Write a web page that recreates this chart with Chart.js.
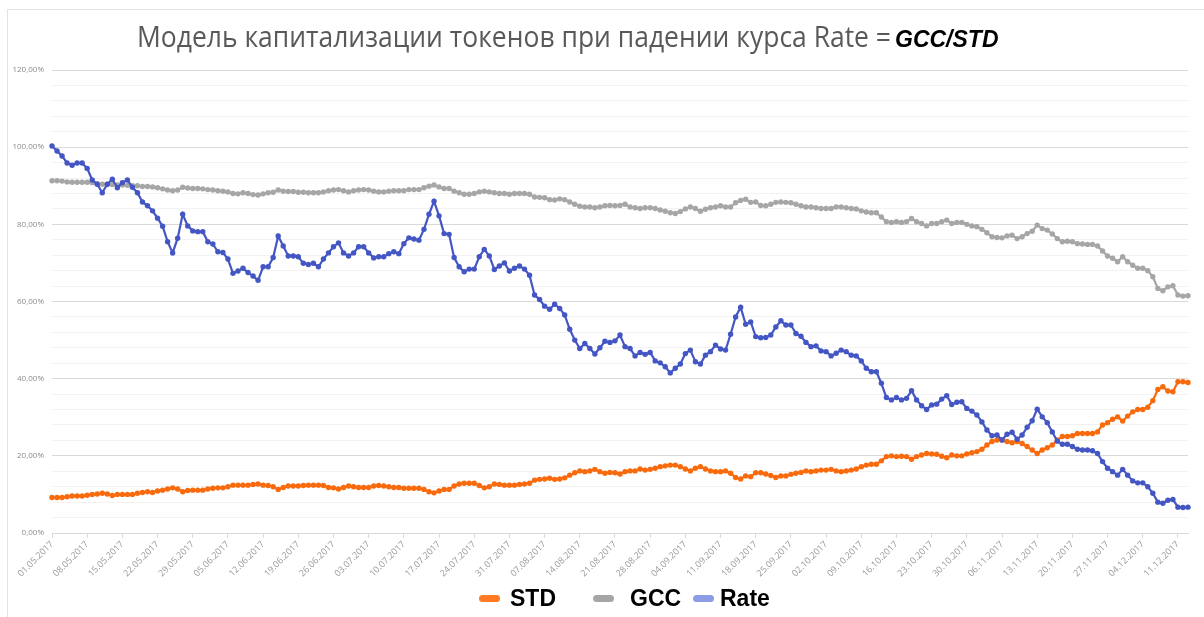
<!DOCTYPE html>
<html lang="ru">
<head>
<meta charset="utf-8">
<title>Модель капитализации токенов</title>
<script src="https://cdn.jsdelivr.net/npm/chart.js@4.4.1/dist/chart.umd.min.js"></script>
<style>
  html, body { margin: 0; padding: 0; background: #fff; overflow: hidden; }
  .frame { position: relative; width: 1204px; height: 617px; }
  .frame::before {
    content: ""; position: absolute; left: 7px; top: 9px; right: 0; bottom: 0;
    border-left: 1px solid #e3e3e3; border-top: 1px solid #e3e3e3;
  }
  #chart { position: absolute; left: 0; top: 0; }
  .title-main {
    position: absolute; left: 137px; top: 21px; white-space: nowrap;
    font: 30px "Open Sans", sans-serif; line-height: 30px; color: #595959;
    transform-origin: 0 0;
  }
  .title-formula {
    position: absolute; left: 895px; top: 28px; white-space: nowrap;
    font: italic bold 23px "Liberation Sans", Arial, sans-serif; line-height: 23px; color: #000;
  }
  .legend-item {
    position: absolute; top: 586px; height: 24px;
    display: flex; align-items: center;
    font: bold 23px "Liberation Sans", Arial, sans-serif; color: #000;
  }
  .legend-mark { width: 21px; height: 7px; border-radius: 3.5px; }
</style>
</head>
<body>
<div class="frame" id="frame">
  <canvas id="chart" width="1204" height="617"></canvas>
  <div class="title-main" id="titleMain">Модель капитализации токенов при падении курса Rate =</div>
  <div class="title-formula">GCC/STD</div>
</div>
<script>
const startDate = [2017, 4, 1];
const tickEvery = 7;
const legendLeft = [479, 593, 693];
const legendGap = [10, 16, 6];

const stdValues = [
  9.2, 9.2, 9.2, 9.4, 9.6, 9.6, 9.6, 9.8, 10.0, 10.1,
  10.3, 10.1, 9.7, 10.0, 10.0, 10.0, 10.0, 10.3, 10.5, 10.7,
  10.5, 10.9, 11.1, 11.4, 11.7, 11.4, 10.7, 11.0, 11.1, 11.1,
  11.1, 11.4, 11.6, 11.7, 11.7, 12.0, 12.4, 12.4, 12.4, 12.4,
  12.6, 12.7, 12.4, 12.3, 12.0, 11.3, 11.8, 12.2, 12.2, 12.2,
  12.3, 12.4, 12.4, 12.4, 12.3, 11.8, 11.7, 11.4, 11.8, 12.2,
  12.0, 11.8, 11.8, 11.8, 12.2, 12.3, 12.2, 12.0, 11.8, 11.8,
  11.6, 11.6, 11.6, 11.6, 11.3, 10.7, 10.4, 10.9, 11.3, 11.3,
  12.2, 12.7, 12.9, 12.9, 12.9, 12.3, 11.7, 12.0, 12.7, 12.6,
  12.4, 12.4, 12.4, 12.6, 12.7, 12.9, 13.7, 13.9, 14.0, 14.2,
  13.9, 14.0, 14.3, 15.0, 15.6, 16.1, 15.9, 16.1, 16.5, 15.9,
  15.5, 15.7, 15.6, 15.3, 15.9, 16.1, 16.1, 16.6, 16.3, 16.5,
  16.8, 17.2, 17.4, 17.6, 17.6, 17.2, 16.6, 16.1, 16.8, 17.2,
  16.6, 16.1, 15.9, 15.9, 16.1, 15.5, 14.4, 14.0, 14.8, 14.6,
  15.6, 15.6, 15.3, 14.9, 14.4, 14.8, 14.8, 15.2, 15.5, 15.7,
  16.1, 15.9, 16.1, 16.3, 16.3, 16.5, 16.1, 15.9, 16.1, 16.3,
  16.6, 17.2, 17.6, 17.8, 17.8, 18.7, 19.8, 20.0, 19.8, 19.9,
  19.8, 19.1, 19.8, 20.2, 20.6, 20.5, 20.4, 19.9, 19.5, 20.2,
  20.0, 20.0, 20.5, 20.8, 21.1, 21.7, 22.8, 23.7, 24.1, 24.1,
  23.7, 23.4, 23.7, 23.2, 22.4, 21.5, 20.6, 21.5, 22.1, 22.8,
  24.1, 25.0, 25.0, 25.2, 25.8, 25.8, 25.8, 25.8, 26.2, 28.0,
  28.6, 29.5, 30.1, 29.0, 30.3, 31.4, 32.0, 32.0, 32.6, 34.3,
  37.2, 37.9, 36.8, 36.6, 39.2, 39.2, 39.0,
];

const gccValues = [
  91.3, 91.3, 91.2, 91.0, 90.9, 90.9, 90.9, 90.9, 90.8, 90.5,
  90.4, 90.4, 90.3, 90.2, 90.2, 90.1, 90.0, 90.0, 89.8, 89.8,
  89.7, 89.5, 89.2, 88.9, 88.7, 88.9, 89.6, 89.4, 89.3, 89.3,
  89.2, 89.0, 88.9, 88.7, 88.6, 88.4, 88.0, 87.9, 88.2, 88.0,
  87.7, 87.6, 87.9, 88.2, 88.3, 88.9, 88.6, 88.5, 88.5, 88.3,
  88.3, 88.2, 88.2, 88.2, 88.4, 88.7, 88.9, 89.0, 88.7, 88.4,
  88.7, 88.9, 89.0, 88.9, 88.6, 88.4, 88.4, 88.6, 88.7, 88.7,
  88.7, 89.0, 89.0, 89.0, 89.5, 89.9, 90.2, 89.7, 89.3, 89.3,
  88.6, 88.2, 87.8, 87.8, 88.0, 88.4, 88.6, 88.4, 88.2, 88.0,
  88.0, 87.8, 88.0, 88.0, 88.0, 87.8, 87.1, 87.0, 86.9, 86.4,
  86.3, 86.6, 86.4, 85.8, 85.2, 84.7, 84.5, 84.5, 84.3, 84.5,
  84.8, 84.9, 84.8, 84.9, 85.2, 84.5, 84.3, 84.1, 84.3, 84.3,
  84.1, 83.7, 83.4, 83.0, 82.8, 83.3, 84.0, 84.5, 84.1, 83.4,
  83.9, 84.3, 84.5, 84.8, 84.5, 84.5, 85.6, 86.2, 86.5, 85.7,
  85.8, 84.9, 84.8, 85.2, 85.7, 85.8, 85.7, 85.6, 85.2, 84.8,
  84.5, 84.5, 84.3, 84.1, 84.1, 84.1, 84.5, 84.5, 84.3, 84.1,
  84.0, 83.5, 83.2, 83.0, 83.0, 81.9, 80.7, 80.5, 80.7, 80.5,
  80.7, 81.5, 80.7, 80.2, 79.6, 80.2, 80.2, 80.7, 81.1, 80.2,
  80.5, 80.5, 80.0, 79.6, 79.4, 78.7, 77.8, 76.8, 76.6, 76.5,
  77.0, 77.2, 76.3, 76.8, 77.6, 78.2, 79.8, 78.9, 78.5, 77.5,
  76.3, 75.5, 75.6, 75.5, 75.0, 74.9, 74.8, 74.8, 74.4, 73.1,
  71.8, 71.2, 70.3, 71.6, 70.3, 69.4, 68.6, 68.6, 68.0, 66.4,
  63.4, 62.8, 63.8, 64.1, 61.7, 61.4, 61.5,
];

const rateValues = [
  100.3, 99.0, 97.7, 95.9, 95.3, 95.9, 95.9, 94.5, 91.5, 90.4,
  88.2, 90.4, 91.7, 89.5, 90.8, 91.5, 89.6, 88.2, 85.8, 84.8,
  83.5, 81.6, 79.5, 75.5, 72.6, 76.4, 82.6, 79.6, 78.3, 78.1,
  78.1, 75.5, 74.9, 72.9, 72.7, 71.0, 67.3, 67.9, 68.6, 67.5,
  66.6, 65.5, 69.0, 69.0, 71.4, 77.0, 74.4, 71.8, 71.8, 71.6,
  69.9, 69.6, 69.9, 69.0, 71.0, 72.6, 74.2, 75.2, 72.6, 71.8,
  72.6, 74.2, 74.2, 72.6, 71.3, 71.6, 71.6, 72.4, 72.9, 72.4,
  75.0, 76.5, 76.2, 75.9, 78.7, 82.6, 86.0, 82.2, 77.6, 77.4,
  71.4, 69.0, 67.7, 68.4, 68.4, 71.6, 73.5, 71.8, 68.3, 69.2,
  70.0, 67.9, 68.6, 69.2, 68.4, 66.8, 61.7, 60.5, 58.8, 58.0,
  59.3, 58.2, 56.5, 52.8, 50.0, 47.8, 49.1, 47.8, 46.4, 48.0,
  49.7, 49.4, 49.8, 51.3, 48.3, 47.8, 45.9, 46.8, 46.3, 46.8,
  44.6, 44.1, 43.1, 41.5, 42.7, 43.8, 46.5, 47.4, 44.4, 43.8,
  46.1, 47.0, 48.7, 47.7, 47.4, 51.5, 56.0, 58.5, 54.1, 54.7,
  50.9, 50.6, 50.7, 51.3, 53.4, 55.0, 53.9, 53.9, 51.7, 51.0,
  49.4, 48.3, 48.5, 47.2, 47.0, 45.9, 46.6, 47.4, 47.0, 46.1,
  45.9, 44.6, 42.7, 41.8, 41.8, 38.8, 35.1, 34.5, 35.1, 34.5,
  34.9, 36.9, 34.5, 33.0, 32.0, 33.2, 33.4, 34.7, 35.6, 33.3,
  33.9, 34.0, 32.3, 31.6, 30.6, 28.8, 26.7, 25.2, 25.4, 24.1,
  25.6, 26.1, 24.3, 25.4, 27.4, 29.1, 32.1, 30.1, 28.6, 26.2,
  23.8, 23.0, 23.0, 22.4, 21.7, 21.5, 21.5, 21.3, 20.6, 18.5,
  16.8, 15.9, 15.0, 16.5, 15.0, 13.5, 13.0, 13.0, 12.0, 10.3,
  8.0, 7.7, 8.5, 8.7, 6.7, 6.6, 6.7,
];

const pad2 = (n) => String(n).padStart(2, "0");

const dayLabels = rateValues.map((_, i) => {
  const d = new Date(startDate[0], startDate[1], startDate[2] + i);
  return `${pad2(d.getDate())}.${pad2(d.getMonth() + 1)}.${d.getFullYear()}`;
});

function fitTitle() {
  const el = document.getElementById("titleMain");
  const w = el.getBoundingClientRect().width;
  el.style.transform = `scaleX(${754 / w})`;
}

function series(label, values, lineColor, legendColor, order) {
  return {
    label,
    data: values,
    order,
    borderColor: lineColor,
    backgroundColor: legendColor,
    pointBackgroundColor: lineColor,
    pointBorderWidth: 0,
    pointRadius: 2.7,
    borderWidth: 2.2,
    tension: 0,
    fill: false,
    clip: false,
  };
}

function buildLegend(chart) {
  const frame = document.getElementById("frame");
  chart.data.datasets.forEach((ds, i) => {
    const item = document.createElement("div");
    item.className = "legend-item";
    item.style.left = legendLeft[i] + "px";
    item.style.gap = legendGap[i] + "px";
    item.innerHTML = `<span class="legend-mark" style="background:${ds.backgroundColor}"></span><span>${ds.label}</span>`;
    frame.appendChild(item);
  });
}

function initChart() {
  const chart = new Chart(document.getElementById("chart"), {
    type: "line",
    data: {
      labels: dayLabels,
      datasets: [
        series("STD", stdValues, "#F96A0C", "#FF7A22", 1),
        series("GCC", gccValues, "#A6A6A6", "#A6A6A6", 2),
        series("Rate", rateValues, "#4356C3", "#8C9CE6", 0),
      ],
    },
    options: {
      responsive: false,
      animation: false,
      devicePixelRatio: 1,
      layout: { padding: { top: 70, right: 16, left: 0, bottom: 0 } },
      plugins: {
        tooltip: { enabled: false },
        title: { display: false },
        legend: { display: false },
      },
      scales: {
        x: {
          grid: { drawOnChartArea: false, drawTicks: true, tickLength: 5, color: "#d9d9d9" },
          border: { color: "#d9d9d9" },
          ticks: {
            autoSkip: false,
            minRotation: 45,
            maxRotation: 45,
            padding: 1,
            color: "#9a9a9a",
            font: { family: "Open Sans", size: 9 },
          },
          afterBuildTicks: (scale) => {
            scale.ticks = scale.ticks.filter((t) => t.value % tickEvery === 0);
          },
          afterFit: (scale) => {
            scale.height = 84;
          },
        },
        y: {
          min: 0,
          max: 120,
          border: { display: false },
          grid: {
            drawTicks: false,
            color: (c) => (c.tick.value % 20 === 0 ? "#d9d9d9" : "#f2f2f2"),
          },
          ticks: {
            stepSize: 4,
            autoSkip: false,
            padding: 8,
            color: "#8c8c8c",
            font: { family: "Open Sans", size: 8 },
            callback: (v) => (v % 20 === 0 ? v.toFixed(2).replace(".", ",") + "%" : ""),
          },
          afterFit: (scale) => {
            scale.width = 52;
          },
        },
      },
    },
  });
  buildLegend(chart);
}

fitTitle();
initChart();
</script>
</body>
</html>
